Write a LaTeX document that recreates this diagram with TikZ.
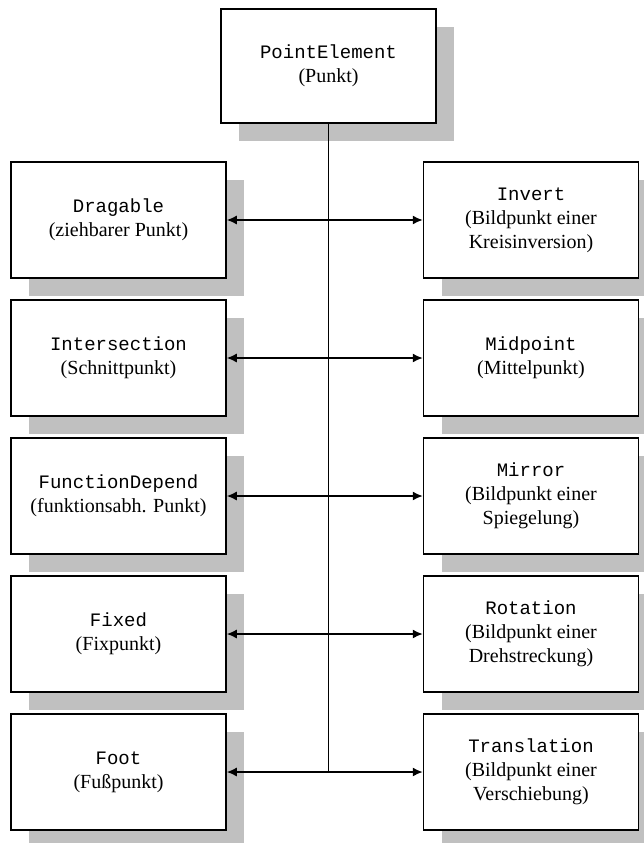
\documentclass[tikz,border=0pt]{standalone}
\usepackage{fontspec}
\setmainfont{Liberation Serif}
\newfontfamily\clsfont{Liberation Mono}
\usetikzlibrary{positioning,shadows,arrows.meta}
\definecolor{shadowgray}{RGB}{192,192,192}
\newcommand{\cname}[1]{{\clsfont\fontsize{19}{24}\selectfont #1}}

\begin{document}
\begin{tikzpicture}[x=1pt,y=-1pt,node distance=138pt,on grid,
  cls/.style={draw,line width=1.5pt,fill=white,minimum width=215pt,
    minimum height=116pt,inner sep=0pt,align=center,
    font=\fontsize{20}{24}\selectfont,
    drop shadow={shadow xshift=18pt,shadow yshift=-18pt,fill=shadowgray,opacity=1}},
  link/.style={line width=1.5pt,-{Latex[length=10pt,width=9pt]}}]
   \useasboundingbox (0,0) rectangle (644,843);
   \node[cls,minimum height=114pt] (top) at (328.5,66) {\cname{PointElement}\\(Punkt)};
   % left column
   \node[cls] (drag)  at (118.5,220)    {\cname{Dragable}\\(ziehbarer Punkt)};
   \node[cls] (inter) [below=of drag]  {\cname{Intersection}\\(Schnittpunkt)};
   \node[cls] (fdep)  [below=of inter] {\cname{FunctionDepend}\\(funktionsabh. Punkt)};
   \node[cls] (fix)   [below=of fdep]  {\cname{Fixed}\\(Fixpunkt)};
   \node[cls] (foot)  [below=of fix]   {\cname{Foot}\\(Fußpunkt)};
   % right column
   \node[cls] (inv)   [right=412.5pt of drag] {\cname{Invert}\\(Bildpunkt einer\\Kreisinversion)};
   \node[cls] (mid)   [below=of inv]   {\cname{Midpoint}\\(Mittelpunkt)};
   \node[cls] (mirr)  [below=of mid]   {\cname{Mirror}\\(Bildpunkt einer\\Spiegelung)};
   \node[cls] (rot)   [below=of mirr]  {\cname{Rotation}\\(Bildpunkt einer\\Drehstreckung)};
   \node[cls] (trans) [below=of rot]   {\cname{Translation}\\(Bildpunkt einer\\Verschiebung)};
   % trunk and branches
   \draw[line width=1.5pt] (top.south) -- (top.south |- foot.east);
   \foreach \l/\r in {drag/inv,inter/mid,fdep/mirr,fix/rot,foot/trans} {
     \draw[link] (top.south |- \l.east) -- (\l.east);
     \draw[link] (top.south |- \r.west) -- (\r.west);
   }
\end{tikzpicture}
\end{document}
